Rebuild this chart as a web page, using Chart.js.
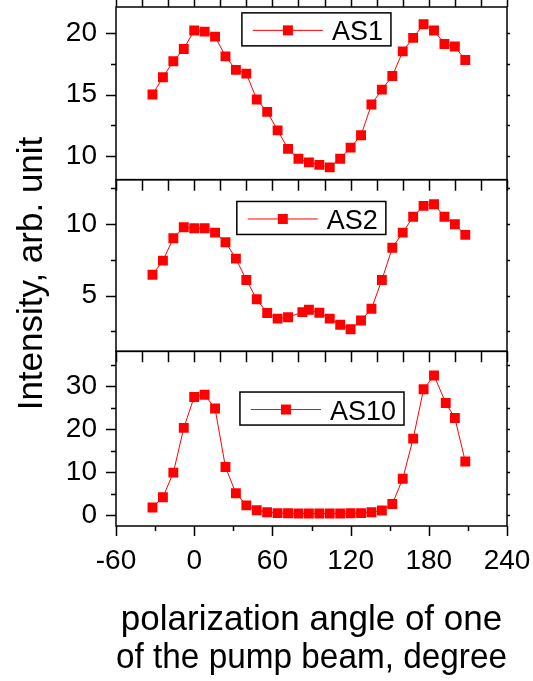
<!DOCTYPE html>
<html>
<head>
<meta charset="utf-8">
<script src="https://cdn.jsdelivr.net/npm/chart.js@4.4.1/dist/chart.umd.min.js"></script>
<style>
  html, body { margin: 0; padding: 0; background: #fff; }
  #wrap { position: relative; width: 533px; height: 681px; }
</style>
</head>
<body>
<div id="wrap"><canvas id="chart" width="533" height="681"></canvas></div>
<script>
// polarization angle, degrees
const angles = [-32, -24, -16, -8, 0, 8, 16, 24, 32, 40, 48, 56, 64, 72, 80, 88,
  96, 104, 112, 120, 128, 136, 144, 152, 160, 168, 176, 184, 192, 200, 208];
const anglesAS2 = [-32, -24, -16, -8, 0, 8, 16, 24, 32, 40, 48, 56, 64, 72, 83, 88,
  96, 104, 112, 120, 128, 136, 144, 152, 160, 168, 176, 184, 192, 200, 208];
const anglesAS10 = [-32, -24, -16, -8, 0, 8, 16, 24, 32, 40, 48, 56, 64, 72, 80, 88,
  96, 104, 112, 120, 128, 136, 144, 152, 160, 168, 176, 184, 193, 200, 208];

// intensities, arb. units
const as1 = [15.0, 16.4, 17.7, 18.7, 20.2, 20.1, 19.7, 18.1, 17.0, 16.7, 14.6, 13.6,
  12.1, 10.6, 9.8, 9.5, 9.3, 9.1, 9.8, 10.7, 11.7, 14.2, 15.4, 16.5, 18.5, 19.6,
  20.7, 20.2, 19.1, 18.9, 17.8];
const as2 = [6.45, 7.44, 9.01, 9.77, 9.70, 9.70, 9.40, 8.73, 7.58, 6.09, 4.74, 3.78,
  3.39, 3.48, 3.84, 4.01, 3.80, 3.39, 2.96, 2.64, 3.26, 4.08, 6.09, 8.34, 9.40,
  10.51, 11.27, 11.38, 10.51, 9.98, 9.24];
const as10 = [1.8, 4.2, 9.9, 20.3, 27.5, 28.0, 24.8, 11.2, 5.1, 2.3, 1.15, 0.7, 0.5,
  0.45, 0.4, 0.4, 0.4, 0.4, 0.4, 0.45, 0.5, 0.7, 1.1, 2.6, 8.5, 17.8, 29.3, 32.5,
  26.1, 22.6, 12.5];

const xTicksBottom = [-60, 0, 60, 120, 180, 240];

const FONT = "'Liberation Sans', Arial, sans-serif";
const RED = '#ff0000';

// panel settings: axis id, minor/major tick steps, legend placement (fractions of panel)
const panels = [
  { axis: 'yTop', minor: 2.5, major: 5, label: 'AS1', fx: 0.322, fy: 0.034 },
  { axis: 'yMid', minor: 2.5, major: 5, label: 'AS2', fx: 0.309, fy: 0.127 },
  { axis: 'yBot', minor: 5, major: 10, label: 'AS10', fx: 0.317, fy: 0.233 }
];

function pts(xs, ys) {
  return xs.map((x, i) => ({ x, y: ys[i] }));
}

function series(label, xs, ys, axis) {
  return {
    label, data: pts(xs, ys), yAxisID: axis,
    borderColor: RED, borderWidth: 1, backgroundColor: RED,
    pointStyle: 'rect', pointRadius: 7, pointHoverRadius: 7,
    pointBackgroundColor: RED, pointBorderWidth: 0, tension: 0
  };
}

function panelAxis(min, max, step, weight) {
  return {
    type: 'linear', position: 'left', stack: 'panels', stackWeight: weight,
    min, max,
    grid: { display: false, drawTicks: false },
    border: { display: false },
    ticks: { stepSize: step, includeBounds: false, padding: 19, color: '#000',
      font: { size: 28, family: FONT } },
    afterFit: s => {
      s.width = 116;
      s.paddingTop = 0;
      s.paddingBottom = 0;
    }
  };
}

function near(v, step) {
  return Math.abs(v / step - Math.round(v / step)) < 1e-6;
}

const framePlugin = {
  id: 'panelFrames',
  afterDatasetsDraw(chart) {
    const { ctx } = chart;
    const x = chart.scales.x;
    ctx.save();
    ctx.strokeStyle = '#000';
    ctx.lineWidth = 1.5;

    panels.forEach((p, idx) => {
      const y = chart.scales[p.axis];
      ctx.strokeRect(x.left, y.top, x.right - x.left, y.bottom - y.top);

      // left and right ticks
      ctx.beginPath();
      const start = Math.ceil(y.min / p.minor) * p.minor;
      for (let v = start; v <= y.max + 1e-9; v += p.minor) {
        const py = Math.round(y.getPixelForValue(v)) + 0.5;
        const len = near(v, p.major) ? 10 : 5;
        ctx.moveTo(x.left, py); ctx.lineTo(x.left - len, py);
        ctx.moveTo(x.right, py); ctx.lineTo(x.right + 3, py);
      }

      // horizontal edges
      if (idx < 2) {
        for (let a = -60; a <= 240; a += 20) {
          const px = Math.round(x.getPixelForValue(a)) + 0.5;
          ctx.moveTo(px, y.bottom); ctx.lineTo(px, y.bottom + 11);
          if (idx === 0) { ctx.moveTo(px, y.top); ctx.lineTo(px, y.top - 8); }
        }
      } else {
        for (let a = -60; a <= 240; a += 30) {
          const px = Math.round(x.getPixelForValue(a)) + 0.5;
          const len = near(a, 60) ? 10 : 5;
          ctx.moveTo(px, y.bottom); ctx.lineTo(px, y.bottom + len);
        }
      }
      ctx.stroke();

      // legend box
      const ds = chart.data.datasets[idx];
      ctx.font = `27px ${FONT}`;
      const tw = ctx.measureText(ds.label).width;
      const bx = x.left + p.fx * (x.right - x.left);
      const by = y.top + p.fy * (y.bottom - y.top);
      const bw = 90 + tw + 8;
      const bh = 33;
      ctx.fillStyle = '#fff';
      ctx.fillRect(bx, by, bw, bh);
      ctx.lineWidth = 1.5;
      ctx.strokeRect(bx, by, bw, bh);
      ctx.strokeStyle = RED;
      ctx.lineWidth = 1;
      ctx.beginPath();
      ctx.moveTo(bx + 11, by + 17.5); ctx.lineTo(bx + 81, by + 17.5);
      ctx.stroke();
      ctx.fillStyle = RED;
      ctx.fillRect(bx + 41, by + 12.5, 10, 10);
      ctx.fillStyle = '#000';
      ctx.textAlign = 'left';
      ctx.textBaseline = 'alphabetic';
      ctx.fillText(ds.label, bx + 90, by + 27.5);
      ctx.strokeStyle = '#000';
      ctx.lineWidth = 1.5;
    });

    // shared vertical title
    const area = chart.chartArea;
    ctx.translate(32, (area.top + area.bottom) / 2 + 7);
    ctx.rotate(-Math.PI / 2);
    ctx.fillStyle = '#000';
    ctx.font = `35px ${FONT}`;
    ctx.textAlign = 'center';
    ctx.textBaseline = 'middle';
    ctx.fillText('Intensity, arb. unit', 0, 0);
    ctx.restore();
  }
};

new Chart(document.getElementById('chart'), {
  type: 'line',
  data: {
    datasets: [
      series('AS1', angles, as1, 'yTop'),
      series('AS2', anglesAS2, as2, 'yMid'),
      series('AS10', anglesAS10, as10, 'yBot')
    ]
  },
  options: {
    responsive: false,
    animation: false,
    layout: { padding: { top: 3, right: 26, left: 0, bottom: 0 } },
    plugins: { legend: { display: false }, tooltip: { enabled: false } },
    scales: {
      yBot: panelAxis(-2.5, 38.1, 10, 176),
      yMid: panelAxis(1.1, 13.1, 5, 173),
      yTop: panelAxis(8.1, 22.1, 5, 174),
      x: {
        type: 'linear', position: 'bottom', min: -60, max: 240,
        grid: { display: false, drawTicks: false },
        border: { display: false },
        afterBuildTicks: s => { s.ticks = xTicksBottom.map(v => ({ value: v })); },
        ticks: { autoSkip: false, maxRotation: 0, padding: 18, color: '#000',
          font: { size: 28, family: FONT } },
        title: {
          display: true,
          text: ['polarization angle of one', 'of the pump beam, degree'],
          color: '#000',
          font: { size: 35, family: FONT, lineHeight: 1.08 },
          padding: { top: 0, bottom: 4 }
        },
        afterFit: s => {
          s.height = 155;
          s.paddingLeft = 0;
          s.paddingRight = 0;
        }
      }
    }
  },
  plugins: [framePlugin]
});
</script>
</body>
</html>
